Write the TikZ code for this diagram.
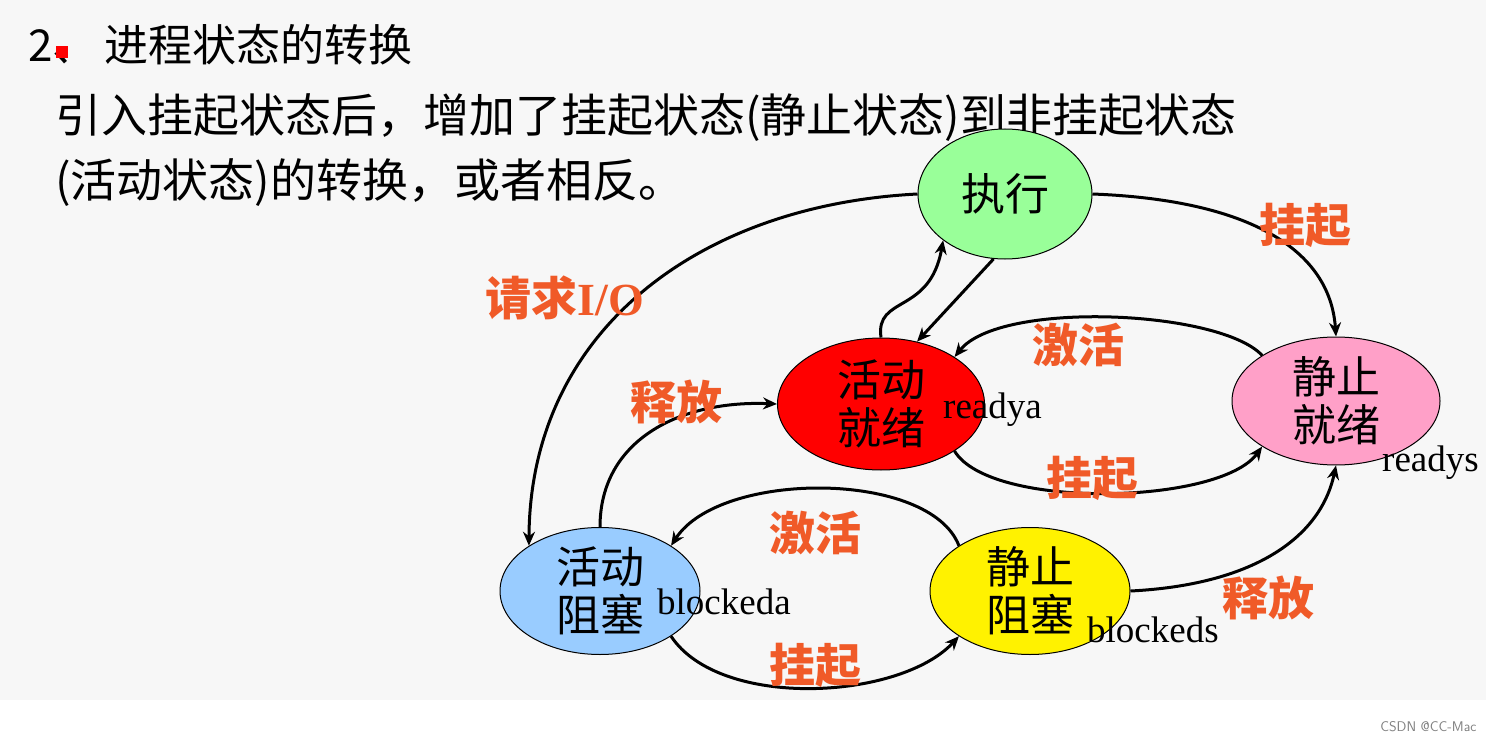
\documentclass[tikz,border=0pt]{standalone}
\usepackage{fontspec}
\setmainfont{Liberation Serif}
\newfontfamily\cjk{Noto Sans CJK SC}
\usetikzlibrary{shapes.geometric,arrows.meta}
\definecolor{lab}{HTML}{F05A28}
\tikzset{
 st/.style={ellipse,draw=black,line width=1pt,minimum width=#1,font=\cjk\fontsize{44}{48}\selectfont,align=center,inner sep=0pt},
 st/.default={200pt},
 ar/.style={line width=3pt,-{Stealth[length=14pt,width=12pt]}},
 lb/.style={text=lab,font=\cjk\bfseries\fontsize{46}{50}\selectfont},
 en/.style={font=\fontsize{37}{40}\selectfont,inner sep=0pt},
}
\begin{document}
\begin{tikzpicture}[x=1pt,y=-1pt]
\fill[white!97!black] (0,0) rectangle (1486,741);
\useasboundingbox (0,0) rectangle (1486,741);
\fill[white] (0,700) rectangle (1486,741);
\node[anchor=south east,text=gray,font=\sffamily\fontsize{14}{16}\selectfont] (csdn) at (1480,735) {CSDN @CC-Mac};
% title
\node[anchor=west,font=\cjk\fontsize{44}{48}\selectfont,inner sep=0pt] (t0) at (28,45) {2、\kern8pt 进程状态的转换};
\fill[red] (56,46) rectangle (68,58);
\node[anchor=west,font=\cjk\fontsize{46}{50}\selectfont,inner sep=0pt] (t1) at (55,118) {引入挂起状态后，增加了挂起状态(静止状态)到非挂起状态};
\node[anchor=west,font=\cjk\fontsize{46}{50}\selectfont,inner sep=0pt] (t2) at (55,183) {(活动状态)的转换，或者相反。};
% states
\node[st=174pt,minimum height=130pt,fill=green!40!white] (zx) at (1005,194) {执行};
\node[st=207pt,minimum height=132pt,fill=red] (hj) at (881,404) {活动\\就绪};
\node[st=208pt,minimum height=128pt,fill={rgb,255:red,255;green,160;blue,200}] (jj) at (1336,401) {静止\\就绪};
\node[st=200pt,minimum height=127pt,fill={rgb,255:red,153;green,204;blue,255}] (hz) at (600,591) {活动\\阻塞};
\node[st=200pt,minimum height=127pt,fill=yellow] (jz) at (1030,591) {静止\\阻塞};
\node[en,anchor=west] (e1) at (943,410) {readya};
\node[en,anchor=west] (e2) at (1382,463) {readys};
\node[en,anchor=west] (e3) at (657,602) {blockeda};
\node[en,anchor=west] (e4) at (1087,630) {blockeds};
% arrows
\draw[ar] (zx.west) .. controls (700,205) and (530,330) .. (hz.north west);
\draw[ar] (zx.east) .. controls (1250,200) and (1330,250) .. (jj.north);
\draw[ar] (jj.north west) .. controls (1220,310) and (1000,300) .. (hj.north east);
\draw[ar] (hj.south east) .. controls (990,510) and (1220,505) .. (jj.south west);
\draw[ar] (hj.north) .. controls (875,295) and (930,315) .. (zx.south west);
\draw[ar] (zx.-100) -- (hj.60);
\draw[ar] (hz.north) .. controls (600,440) and (680,400) .. (hj.west);
\draw[ar] (jz.north west) .. controls (930,470) and (720,470) .. (hz.north east);
\draw[ar] (hz.south east) .. controls (720,710) and (900,700) .. (jz.south west);
\draw[ar] (jz.east) .. controls (1250,585) and (1320,540) .. (jj.south);
% labels
\node[lb] (l1) at (1305,225) {挂起};
\node[lb] (l2) at (565,298) {请求\textrm{I/O}};
\node[lb] (l3) at (1078,345) {激活};
\node[lb] (l4) at (676,402) {释放};
\node[lb] (l5) at (1092,478) {挂起};
\node[lb] (l6) at (815,533) {激活};
\node[lb] (l7) at (1268,598) {释放};
\node[lb] (l8) at (815,665) {挂起};
\end{tikzpicture}
\end{document}
